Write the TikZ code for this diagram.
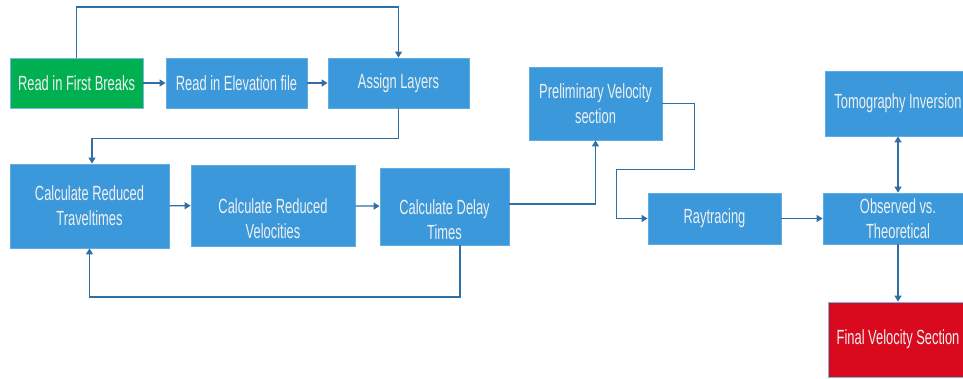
\documentclass[tikz,border=0pt]{standalone}
\usepackage{fontspec}
\setmainfont{Liberation Sans}[FakeStretch=0.63]
\usetikzlibrary{arrows.meta}

\definecolor{boxblue}{HTML}{3A98DB}
\definecolor{boxgreen}{HTML}{00B050}
\definecolor{boxred}{HTML}{D90A1E}
\definecolor{linkblue}{HTML}{2F6FA3}

\tikzset{
    stage/.style={rectangle, draw=boxblue!80!white, fill=boxblue, text=white!94!black,
        align=center, inner sep=0pt, line width=0.8pt,
        font=\fontsize{20.5}{25}\selectfont},
    lowtext/.style={text height=66pt},
    link/.style={draw=linkblue, line width=1.3pt,
        -{Triangle[width=7pt,length=6pt]}},
    twolink/.style={draw=linkblue, line width=1.3pt,
        {Triangle[width=7pt,length=6pt]}-{Triangle[width=7pt,length=6pt]}}
}

\begin{document}
\begin{tikzpicture}[x=1pt, y=-1pt]

    \useasboundingbox (0,0) rectangle (963,379);

    % Ligne du haut
    \node[stage, fill=boxgreen, draw=boxblue!70!white, minimum width=133, minimum height=50] (fb) at (76.5,83) {Read in First Breaks};
    \node[stage, minimum width=141, minimum height=50] (elev) at (236.5,83) {Read in Elevation file};
    \node[stage, minimum width=141, minimum height=50] (layers) at (398.5,83) {Assign Layers};

    % Ligne du milieu
    \node[stage, minimum width=159, minimum height=84] (redtt) at (89.5,206) {Calculate Reduced\\Traveltimes};
    \node[stage, lowtext, minimum width=164, minimum height=81] (redvel) at (273,205.5) {Calculate Reduced\\Velocities};
    \node[stage, lowtext, minimum width=129, minimum height=77] (delay) at (444.5,206.5) {Calculate Delay\\Times};
    \node[stage, minimum width=133, minimum height=73] (prelim) at (595.5,103.5) {Preliminary Velocity\\section};
    \node[stage, minimum width=133, minimum height=51] (ray) at (714.5,218.5) {Raytracing};

    % Colonne de droite
    \node[stage, minimum width=146, minimum height=65] (tomo) at (898,103.5) {Tomography Inversion};
    \node[stage, minimum width=150, minimum height=51] (obs) at (898,218.5) {Observed vs.\\Theoretical};
    \node[stage, fill=boxred, draw=boxblue!70!white, minimum width=140, minimum height=75] (final) at (898,339.5) {Final Velocity Section};

    % Flèches
    \draw[link] (fb) -- (elev);
    \draw[link] (elev) -- (layers);
    \draw[link] (fb.north) -- (fb.north |- 0,7) -| (layers.north);
    \draw[link] (layers.south) -- ++(0,30) -| ([xshift=2.5]redtt.north);
    \draw[link] (redtt) -- (redvel);
    \draw[link] (redvel) -- (delay);
    \draw[link] ([xshift=15.5]delay.south) -- ++(0,51.5) -| (redtt.south);
    \draw[link] ([yshift=2.5]delay.east) -| (prelim.south);
    \draw[link] (prelim.east) -- ++(32,0) -- ++(0,66) -- ++(-78,0) |- (ray.west);
    \draw[link] (ray) -- (obs);
    \draw[twolink] (obs.north) -- (tomo.south);
    \draw[link] (obs.south) -- (final.north);

\end{tikzpicture}
\end{document}
